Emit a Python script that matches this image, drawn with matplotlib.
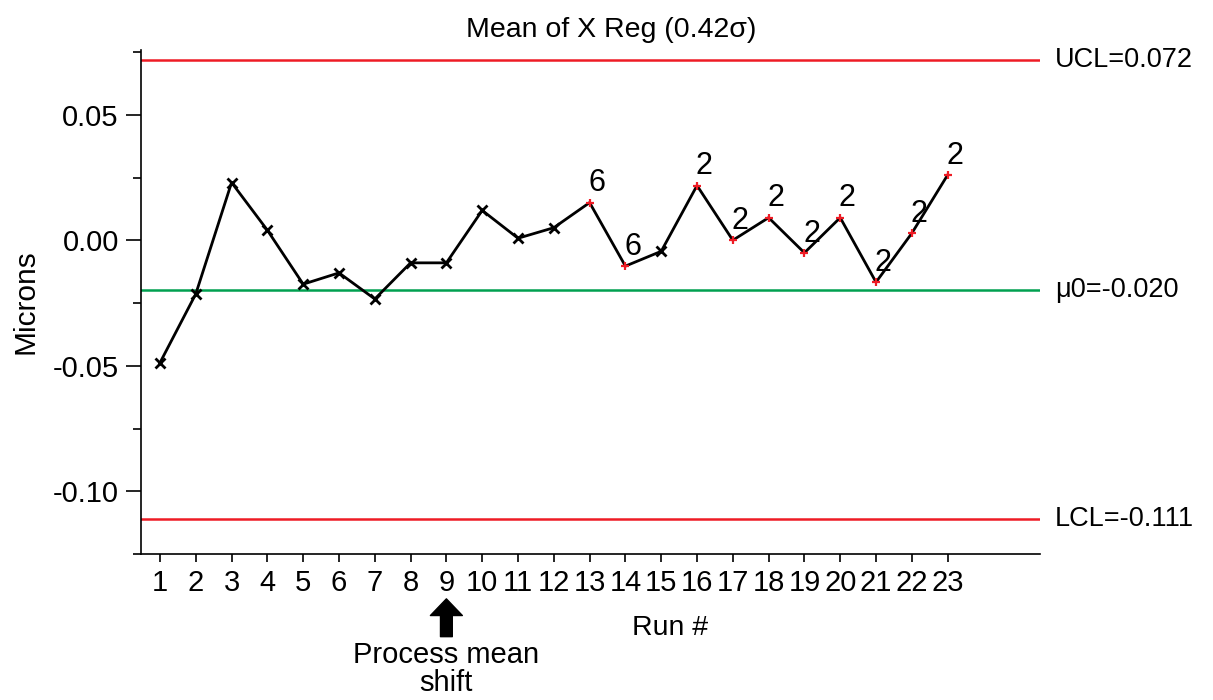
import matplotlib
matplotlib.use("Agg")
import matplotlib.pyplot as plt
from matplotlib.transforms import blended_transform_factory
import numpy as np

plt.rcParams['font.family'] = ['Liberation Sans', 'DejaVu Sans']

runs = list(range(1, 24))
means = [-0.0488, -0.0214, 0.0230, 0.0040, -0.0175, -0.0130, -0.0234, -0.0090,
         -0.0090, 0.0119, 0.0008, 0.0050, 0.0150, -0.0103, -0.0044, 0.0218,
         0.0000, 0.0090, -0.0050, 0.0090, -0.0167, 0.0028, 0.0260]
flags = ['', '', '', '', '', '', '', '', '', '', '', '', '6', '6', '', '2',
         '2', '2', '2', '2', '2', '2', '2']
ucl = 0.072
center = -0.020
lcl = -0.111
title = "Mean of X Reg (0.42σ)"
ucl_label = "UCL=0.072"
center_label = "μ0=-0.020"
lcl_label = "LCL=-0.111"
shift_run = 9

W, H = 1213, 700
fig = plt.figure(figsize=(W / 100, H / 100), dpi=100)
ax = fig.add_axes([141 / W, 1 - 554 / H, (1040 - 141) / W, (554 - 50) / H])

red = '#ee1c25'
green = '#00a050'
ax.axhline(ucl, color=red, lw=1.8, zorder=1)
ax.axhline(lcl, color=red, lw=1.8, zorder=1)
ax.axhline(center, color=green, lw=1.8, zorder=1)

ax.plot(runs, means, color='black', lw=2.0, zorder=2)
xs_n = [r for r, f in zip(runs, flags) if not f]
ys_n = [m for m, f in zip(means, flags) if not f]
xs_f = [r for r, f in zip(runs, flags) if f]
ys_f = [m for m, f in zip(means, flags) if f]
ax.plot(xs_n, ys_n, 'x', color='black', ms=7, mew=2.0, zorder=3)
ax.plot(xs_f, ys_f, '+', color=red, ms=6, mew=1.6, zorder=3)
for r, m, f in zip(runs, means, flags):
    if f:
        ax.annotate(f, (r, m), xytext=(-1, 3), textcoords='offset points',
                    ha='left', va='bottom', fontsize=22, color='black', zorder=4)

ax.set_xlim(0.47, 25.58)
ax.set_ylim(-0.1242, 0.0758)
ax.set_xticks(runs)
ax.set_xticklabels([str(r) for r in runs])
ax.set_yticks([0.05, 0.0, -0.05, -0.10])
ax.set_yticklabels(['0.05', '0.00', '-0.05', '-0.10'])
ax.set_yticks([0.075, 0.025, -0.025, -0.075, -0.125], minor=True)
ax.tick_params(axis='y', which='major', length=11, width=1.2, pad=5, labelsize=21)
ax.tick_params(axis='y', which='minor', length=6, width=1.2)
ax.tick_params(axis='x', which='major', length=6, width=1.2, pad=5, labelsize=21)
for s in ['top', 'right']:
    ax.spines[s].set_visible(False)
for s in ['left', 'bottom']:
    ax.spines[s].set_linewidth(1.2)

trans = blended_transform_factory(ax.transAxes, ax.transData)
for val, lab in [(ucl, ucl_label), (center, center_label), (lcl, lcl_label)]:
    ax.text(1.0167, val, lab, transform=trans, ha='left', va='center',
            fontsize=19.5, clip_on=False)

xtrans = ax.get_xaxis_transform()
ax.text(15.25, -0.122, "Run #", transform=xtrans, ha='center', va='top', fontsize=20.5)
ax.annotate('', xy=(shift_run, -0.089), xytext=(shift_run, -0.164),
            xycoords=xtrans, textcoords=xtrans,
            arrowprops=dict(width=8.5, headwidth=23, headlength=12, color='black', shrink=0))
ax.text(shift_run, -0.172, "Process mean\nshift", transform=xtrans, ha='center', va='top',
        fontsize=21, linespacing=1.0)

fig.text(611 / W, 1 - 37 / H, title, ha='center', va='baseline', fontsize=20.5)
fig.text(25 / W, 1 - 302 / H, "Microns", rotation=90, ha='center', va='center', fontsize=21.5)

fig.savefig('out.png', dpi=100)
